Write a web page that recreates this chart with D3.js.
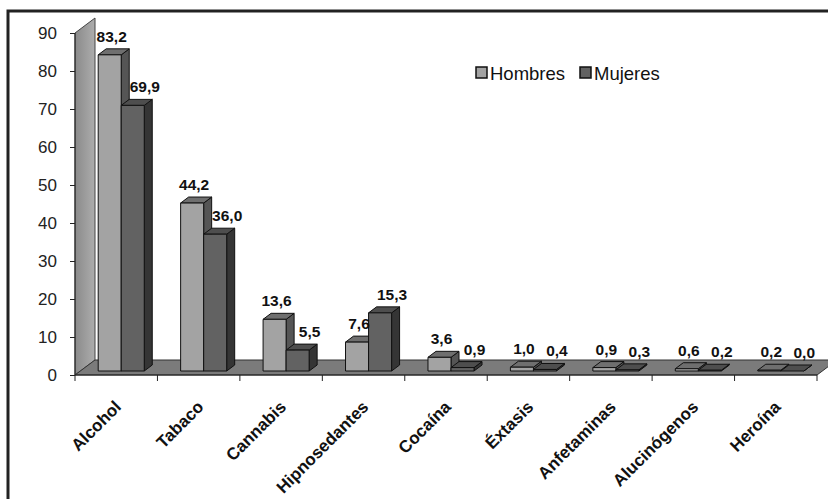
<!DOCTYPE html>
<html>
<head>
<meta charset="utf-8">
<script src="https://cdn.jsdelivr.net/npm/d3@7"></script>
<style>
  body { margin: 0; background: #fff; }
  svg { display: block; font-family: "Liberation Sans", Arial, sans-serif; }
</style>
</head>
<body>
<div id="chart"></div>
<script>
// data
const categories = ["Alcohol", "Tabaco", "Cannabis", "Hipnosedantes", "Cocaína", "Éxtasis", "Anfetaminas", "Alucinógenos", "Heroína"];
const series = ["Hombres", "Mujeres"];
const hombres = [83.2, 44.2, 13.6, 7.6, 3.6, 1.0, 0.9, 0.6, 0.2];
const mujeres = [69.9, 36.0, 5.5, 15.3, 0.9, 0.4, 0.3, 0.2, 0.0];
const yTicks = [0, 10, 20, 30, 40, 50, 60, 70, 80, 90];

const W = 828, H = 499;
const svg = d3.select("#chart").append("svg").attr("width", W).attr("height", H);

// outer frame (runs off the right / bottom edges in the original)
svg.append("rect")
    .attr("x", 8).attr("y", 11)
    .attr("width", 850).attr("height", 520)
    .attr("fill", "none").attr("stroke", "#222").attr("stroke-width", 3);

const x = d3.scaleBand().domain(categories).range([75, 817]);
const xs = d3.scaleBand().domain(series).range([0, x.bandwidth()]).paddingOuter(0.79);
const y = d3.scaleLinear().domain([0, 90]).range([375, 33]);

// 3d offsets
const floorDx = 20, floorDy = -15;   // depth of floor/wall
const barOx = 5, barOy = -4;         // where bars stand on the floor
const barDx = 8, barDy = -6;         // depth of each bar

const colors = {
    Hombres: {front: "#a3a3a3", top: "#6f6f6f", side: "#555"},
    Mujeres: {front: "#626262", top: "#4e4e4e", side: "#353535"}
};

const defs = svg.append("defs");
const grad = defs.append("linearGradient").attr("id", "wallGrad")
    .attr("x1", 0).attr("x2", 1).attr("y1", 0).attr("y2", 0);
grad.append("stop").attr("offset", "0%").attr("stop-color", "#8a8a8a");
grad.append("stop").attr("offset", "100%").attr("stop-color", "#adadad");

const x0 = x.range()[0], x1 = x.range()[1], y0 = y(0), yTop = y(90);
const pts = p => p.map(d => d.join(",")).join(" ");

// wall
svg.append("polygon")
    .attr("points", pts([[x0, y0], [x0 + floorDx, y0 + floorDy], [x0 + floorDx, yTop + floorDy], [x0, yTop]]))
    .attr("fill", "url(#wallGrad)").attr("stroke", "#444").attr("stroke-width", 1);

// floor
svg.append("polygon")
    .attr("points", pts([[x0, y0], [x1, y0], [x1 + floorDx, y0 + floorDy], [x0 + floorDx, y0 + floorDy]]))
    .attr("fill", "#7b7b7b").attr("stroke", "#333").attr("stroke-width", 1);

// y axis
const yAxis = svg.append("g")
    .attr("transform", `translate(${x0},0)`)
    .call(d3.axisLeft(y).tickValues(yTicks).tickSize(5).tickPadding(13).tickFormat(d3.format("d")));
yAxis.select(".domain").attr("stroke", "#222").attr("d", `M0,${y0}V${yTop}`);
yAxis.selectAll(".tick line").attr("stroke", "#222");
yAxis.selectAll(".tick text").attr("fill", "#222").style("font-size", "17px").attr("font-family", null);

// x axis ticks at category boundaries
const xTickPos = categories.map(c => x(c)).concat([x1]);
svg.append("g").selectAll("line").data(xTickPos).join("line")
    .attr("x1", d => d).attr("x2", d => d)
    .attr("y1", y0).attr("y2", y0 + 6)
    .attr("stroke", "#222");
svg.append("line").attr("x1", x0).attr("x2", x1).attr("y1", y0).attr("y2", y0).attr("stroke", "#222");

// bars
const rows = [];
categories.forEach((c, i) => {
    rows.push({cat: c, s: "Hombres", v: hombres[i]});
    rows.push({cat: c, s: "Mujeres", v: mujeres[i]});
});

const bars = svg.append("g");
rows.forEach(d => {
    const bx = x(d.cat) + xs(d.s) + barOx;
    const bw = xs.bandwidth();
    const yb = y0 + barOy;
    const yt = y(d.v) + barOy;
    const col = colors[d.s];
    const g = bars.append("g").attr("stroke", "#111").attr("stroke-width", 1).attr("stroke-linejoin", "round");
    g.append("polygon").attr("fill", col.side)
        .attr("points", pts([[bx + bw, yb], [bx + bw + barDx, yb + barDy], [bx + bw + barDx, yt + barDy], [bx + bw, yt]]));
    g.append("polygon").attr("fill", col.top)
        .attr("points", pts([[bx, yt], [bx + bw, yt], [bx + bw + barDx, yt + barDy], [bx + barDx, yt + barDy]]));
    g.append("rect").attr("fill", col.front)
        .attr("x", bx).attr("y", yt).attr("width", bw).attr("height", Math.max(0, yb - yt));
});

// value labels
const fmt = v => v.toFixed(1).replace(".", ",");
svg.append("g").selectAll("text").data(rows).join("text")
    .attr("x", d => x(d.cat) + xs(d.s) + barOx + xs.bandwidth() / 2 + (d.s === "Hombres" ? 2 : 12))
    .attr("y", d => y(d.v) + barOy + barDy / 2 - 10)
    .attr("text-anchor", "middle")
    .attr("fill", "#111")
    .style("font-size", "15.5px").style("font-weight", "bold")
    .text(d => fmt(d.v));

// category labels
svg.append("g").selectAll("text").data(categories).join("text")
    .attr("transform", c => `translate(${x(c) + x.bandwidth() / 2 + 6},${y0 + 33}) rotate(-45)`)
    .attr("text-anchor", "end")
    .attr("fill", "#111")
    .style("font-size", "17px").style("font-weight", "bold")
    .text(c => c);

// legend
const legend = svg.append("g");
const legX = [476, 580];
series.forEach((s, i) => {
    legend.append("rect")
        .attr("x", legX[i]).attr("y", 67).attr("width", 11).attr("height", 11)
        .attr("fill", colors[s].front).attr("stroke", "#111").attr("stroke-width", 1.5);
    legend.append("text")
        .attr("x", legX[i] + 14).attr("y", 80)
        .attr("fill", "#111").style("font-size", "18.5px")
        .text(s);
});
</script>
</body>
</html>
